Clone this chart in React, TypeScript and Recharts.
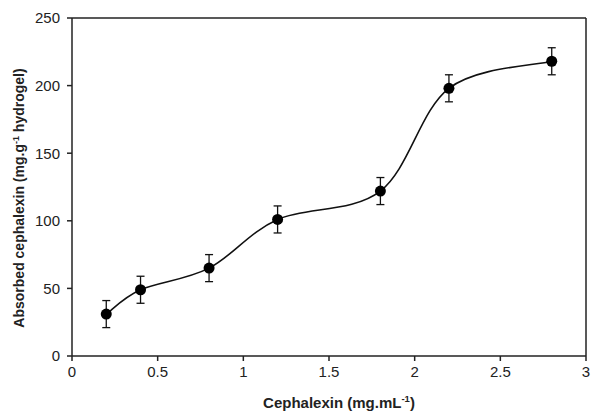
import { LineChart, Line, XAxis, YAxis, ErrorBar, ReferenceLine } from 'recharts'

// cephalexin concentration (mg/mL) vs absorbed amount (mg/g hydrogel)
const concentration = [0.2, 0.4, 0.8, 1.2, 1.8, 2.2, 2.8]
const absorbed = [31, 49, 65, 101, 122, 198, 218]
const errors = [10, 10, 10, 10, 10, 10, 10]

const xTicks = [0, 0.5, 1, 1.5, 2, 2.5, 3]
const yTicks = [0, 50, 100, 150, 200, 250]

const data = concentration.map((c, i) => ({ x: c, y: absorbed[i], err: errors[i] }))

const FONT = '"Liberation Sans", Arial, sans-serif'
const INK = '#222'

// Excel-style smoothed line: Catmull-Rom segments drawn as cubic beziers
function smoothCurve(context: any) {
  let pts: [number, number][] = []
  return {
    areaStart() {},
    areaEnd() {},
    lineStart() { pts = [] },
    point(x: number, y: number) { pts.push([+x, +y]) },
    lineEnd() {
      if (!pts.length) return
      context.moveTo(pts[0][0], pts[0][1])
      for (let i = 0; i < pts.length - 1; i++) {
        const p0 = pts[Math.max(i - 1, 0)]
        const p1 = pts[i]
        const p2 = pts[i + 1]
        const p3 = pts[Math.min(i + 2, pts.length - 1)]
        context.bezierCurveTo(
          p1[0] + (p2[0] - p0[0]) / 6, p1[1] + (p2[1] - p0[1]) / 6,
          p2[0] - (p3[0] - p1[0]) / 6, p2[1] - (p3[1] - p1[1]) / 6,
          p2[0], p2[1],
        )
      }
    },
  }
}

function YTitle() {
  return (
    <text
      transform="translate(24, 198) rotate(-90)"
      textAnchor="middle"
      fontFamily={FONT}
      fontWeight="bold"
      fontSize={14}
      fill={INK}
    >
      Absorbed cephalexin (mg.g
      <tspan dy={-5} fontSize={9}>-1</tspan>
      <tspan dy={5}> hydrogel)</tspan>
    </text>
  )
}

function XTitle() {
  return (
    <text x={339} y={408} textAnchor="middle" fontFamily={FONT} fontWeight="bold" fontSize={15} fill={INK}>
      Cephalexin (mg.mL
      <tspan dy={-6} fontSize={9.5}>-1</tspan>
      <tspan dy={6}>)</tspan>
    </text>
  )
}

export default function App() {
  const tick = { fontSize: 15, fill: INK, fontFamily: FONT }
  return (
    <div style={{ position: 'absolute', left: 0, top: 0, background: '#fff' }}>
      <LineChart width={594} height={413} data={data} margin={{ top: 18, right: 8, left: 0, bottom: 0 }}>
        <XAxis
          dataKey="x"
          type="number"
          domain={[0, 3]}
          ticks={xTicks}
          tick={tick}
          tickSize={5}
          tickMargin={5}
          stroke={INK}
          strokeWidth={1.5}
          height={57}
          label={<XTitle />}
        />
        <YAxis
          type="number"
          domain={[0, 250]}
          ticks={yTicks}
          tick={tick}
          tickSize={5}
          tickMargin={7}
          stroke={INK}
          strokeWidth={1.5}
          width={72}
          label={<YTitle />}
        />
        <ReferenceLine y={250} stroke={INK} strokeWidth={1.5} />
        <ReferenceLine x={3} stroke={INK} strokeWidth={1.5} />
        <Line
          dataKey="y"
          type={smoothCurve as any}
          stroke="#111"
          strokeWidth={1.6}
          dot={{ r: 5.5, fill: '#000', stroke: '#000', strokeWidth: 0 }}
          isAnimationActive={false}
        >
          <ErrorBar dataKey="err" direction="y" width={4} stroke="#111" strokeWidth={1.3} />
        </Line>
      </LineChart>
    </div>
  )
}
